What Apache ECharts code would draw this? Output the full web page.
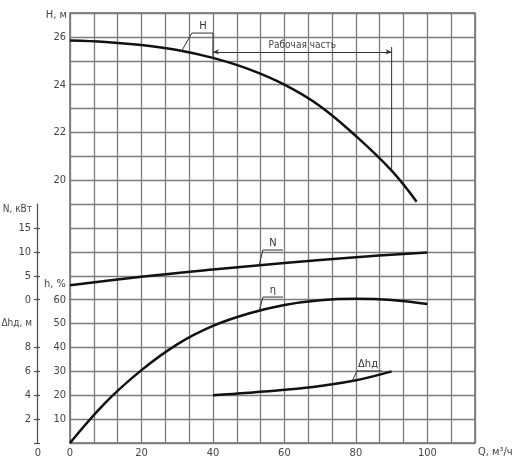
<!DOCTYPE html>
<html>
<head>
<meta charset="utf-8">
<script src="https://cdn.jsdelivr.net/npm/echarts@6/dist/echarts.min.js"></script>
<style>
  html, body { margin: 0; padding: 0; background: #fff; }
  #chart { width: 520px; height: 465px; }
</style>
</head>
<body>
<div id="chart"></div>
<script>
// pump curves, values
const qLabels = [0, 20, 40, 60, 80, 100]
const hLabels = [20, 22, 24, 26]
const nLabels = [0, 5, 10, 15]
const etaLabels = [10, 20, 30, 40, 50, 60]
const dhLabels = [2, 4, 6, 8]
const nTicks = [0, 5, 10, 15]
const dhTicks = [0, 2, 4, 6, 8]

const qHead = [0, 10, 20, 30, 40, 50, 60, 70, 80, 90, 97]
const headH = [25.85, 25.79, 25.66, 25.45, 25.12, 24.65, 24.0, 23.1, 21.85, 20.4, 19.1]

const qPower = [0, 20, 40, 60, 80, 100]
const powerN = [3.0, 4.8, 6.3, 7.7, 8.9, 9.9]

const qEff = [0, 10, 20, 30, 40, 50, 60, 70, 80, 90, 100]
const effEta = [0, 17, 30.5, 41.3, 49, 54.2, 57.8, 59.8, 60.4, 59.9, 58.2]

const qNpsh = [40, 50, 60, 70, 80, 90]
const npshDh = [4.0, 4.2, 4.45, 4.78, 5.25, 6.0]

// working range of Q
const workRange = [40, 90]
const workLevel = 25.37

const Q_MAX = 340 / 3
const Q_STEP = 20 / 3

const ink = '#111'
const text = '#444'
const rule = '#7c7c7c'
const font = '"Liberation Sans Narrow", "DejaVu Sans Condensed", "Liberation Sans", sans-serif'

const zip = (xs, ys) => xs.map((x, i) => [x, ys[i]])

function callout(name, xAxisIndex, yAxisIndex, pts, labelAt) {
  // pts: [on curve], [leader top], [end of underline]
  const [a, b, c] = pts
  return {
    name,
    type: 'line',
    xAxisIndex,
    yAxisIndex,
    symbol: 'circle',
    symbolSize: 0,
    showSymbol: true,
    silent: true,
    lineStyle: { color: '#333', width: 1 },
    data: [
      a,
      b,
      {
        value: [labelAt, b[1]],
        label: {
          show: true,
          position: 'top',
          distance: 1,
          formatter: name,
          color: '#333',
          fontSize: 11,
          fontFamily: font
        }
      },
      c
    ]
  }
}

function curve(name, xAxisIndex, yAxisIndex, data) {
  return {
    name,
    type: 'line',
    xAxisIndex,
    yAxisIndex,
    smooth: 0.4,
    showSymbol: false,
    silent: true,
    lineStyle: { color: ink, width: 2.5 },
    data
  }
}

const labelStyle = { color: text, fontSize: 11, fontFamily: font }
const nameStyle = { color: text, fontSize: 11, fontFamily: font }
const tickLine = { color: '#555', width: 1.2 }

const chart = echarts.init(document.getElementById('chart'), null, { renderer: 'canvas' })

chart.setOption({
  animation: false,
  backgroundColor: '#fff',
  textStyle: { fontFamily: font },
  grid: [
    {
      left: 70, top: 13, width: 405, height: 430,
      show: true, borderColor: '#666', borderWidth: 1.5,
      containLabel: false, outerBoundsMode: 'none'
    },
    {
      left: 70, top: 204.14, width: 405, height: 238.86,
      show: false, containLabel: false, outerBoundsMode: 'none'
    }
  ],
  xAxis: [
    {
      gridIndex: 0,
      type: 'value',
      min: 0,
      max: Q_MAX,
      interval: Q_STEP,
      axisLine: { show: false },
      axisTick: { show: false },
      splitLine: { show: true, lineStyle: { color: rule, width: 1.3 } },
      axisLabel: { customValues: qLabels, margin: 5, ...labelStyle },
      name: 'Q, м³/ч',
      nameLocation: 'end',
      nameGap: 3,
      nameMoveOverlap: false,
      nameTextStyle: { ...nameStyle, align: 'left', verticalAlign: 'top', padding: [4, 0, 0, 0] }
    },
    {
      gridIndex: 1,
      type: 'value',
      min: 0,
      max: Q_MAX,
      show: false
    }
  ],
  yAxis: [
    {
      // H
      gridIndex: 0,
      type: 'value',
      min: 9,
      max: 27,
      interval: 1,
      axisLine: { show: false, onZero: false },
      axisTick: { show: false },
      splitLine: { show: true, lineStyle: { color: rule, width: 1.3 } },
      axisLabel: { customValues: hLabels, margin: 4, ...labelStyle },
      name: 'H, м',
      nameLocation: 'end',
      nameGap: -2,
      nameMoveOverlap: false,
      nameTextStyle: { ...nameStyle, align: 'right', verticalAlign: 'middle', padding: [0, 3, 0, 0] }
    },
    {
      // N
      gridIndex: 1,
      type: 'value',
      position: 'left',
      offset: 33,
      min: -30,
      max: 20,
      interval: 5,
      axisLine: { show: true, onZero: false, lineStyle: { color: '#555', width: 1.3 } },
      axisTick: { show: true, customValues: nTicks, length: 3, lineStyle: tickLine },
      axisLabel: { customValues: nLabels, margin: 6, ...labelStyle },
      splitLine: { show: false },
      name: 'N, кВт',
      nameLocation: 'end',
      nameGap: -5,
      nameMoveOverlap: false,
      nameTextStyle: { ...nameStyle, fontSize: 10, align: 'right', verticalAlign: 'middle', padding: [0, 5, 0, 0] }
    },
    {
      // N ticks, inner side
      gridIndex: 1,
      type: 'value',
      position: 'left',
      offset: 33,
      min: -30,
      max: 20,
      interval: 5,
      axisLine: { show: false, onZero: false },
      axisTick: { show: true, inside: true, customValues: nTicks, length: 3, lineStyle: tickLine },
      axisLabel: { show: false },
      splitLine: { show: false }
    },
    {
      // Δh
      gridIndex: 1,
      type: 'value',
      position: 'left',
      offset: 33,
      min: 0,
      max: 20,
      interval: 2,
      axisLine: { show: false, onZero: false },
      axisTick: { show: true, customValues: dhTicks, length: 3, lineStyle: tickLine },
      axisLabel: { customValues: dhLabels, margin: 6, ...labelStyle },
      splitLine: { show: false },
      name: 'Δhд, м',
      nameLocation: 'middle',
      nameRotate: 0,
      nameGap: 5,
      nameMoveOverlap: false,
      nameTextStyle: { ...nameStyle, fontSize: 10, align: 'right', verticalAlign: 'middle', padding: [8, 0, 0, 0] }
    },
    {
      // Δh ticks, inner side
      gridIndex: 1,
      type: 'value',
      position: 'left',
      offset: 33,
      min: 0,
      max: 20,
      interval: 2,
      axisLine: { show: false, onZero: false },
      axisTick: { show: true, inside: true, customValues: dhTicks, length: 3, lineStyle: tickLine },
      axisLabel: { show: false },
      splitLine: { show: false }
    },
    {
      // η
      gridIndex: 1,
      type: 'value',
      position: 'left',
      offset: 0,
      min: 0,
      max: 100,
      interval: 10,
      axisLine: { show: false, onZero: false },
      axisTick: { show: false },
      axisLabel: { customValues: etaLabels, margin: 4, ...labelStyle },
      splitLine: { show: false },
      name: 'h, %',
      nameLocation: 'end',
      nameGap: -80,
      nameMoveOverlap: false,
      nameTextStyle: { ...nameStyle, align: 'right', verticalAlign: 'middle', padding: [0, 4, 0, 0] }
    }
  ],
  graphic: [
    {
      type: 'text',
      x: 38,
      y: 453,
      silent: true,
      style: { text: '0', fill: text, font: '11px ' + font, textAlign: 'center', textVerticalAlign: 'middle' }
    }
  ],
  series: [
    curve('H', 0, 0, zip(qHead, headH)),
    curve('N', 1, 1, zip(qPower, powerN)),
    curve('η', 1, 5, zip(qEff, effEta)),
    curve('Δh', 1, 3, zip(qNpsh, npshDh)),
    callout('H', 0, 0, [[31.3, 25.42], [34.1, 26.16], [40, 26.16]], 37.2),
    callout('N', 1, 1, [[52.9, 7.2], [54.0, 10.4], [59.6, 10.4]], 56.8),
    callout('η', 1, 5, [[52.9, 55.2], [54.0, 61.1], [59.6, 61.1]], 56.8),
    callout('Δhд', 1, 3, [[78.9, 5.15], [80.3, 6.03], [87.3, 6.03]], 83.4),
    {
      // working range dimension line
      name: 'work',
      type: 'line',
      xAxisIndex: 0,
      yAxisIndex: 0,
      data: [],
      silent: true,
      markLine: {
        silent: true,
        symbol: ['arrow', 'arrow'],
        symbolSize: [4, 6],
        lineStyle: { color: '#333', width: 1, type: 'solid' },
        label: {
          show: true,
          position: 'middle',
          formatter: 'Рабочая часть',
          color: text,
          fontSize: 10,
          fontFamily: font,
          distance: 2
        },
        data: [[{ coord: [workRange[0], workLevel] }, { coord: [workRange[1], workLevel] }]]
      }
    },
    {
      name: 'workLeft',
      type: 'line',
      xAxisIndex: 0,
      yAxisIndex: 0,
      showSymbol: false,
      silent: true,
      lineStyle: { color: '#333', width: 1 },
      data: [[workRange[0], 26.16], [workRange[0], 25.1]]
    },
    {
      name: 'workRight',
      type: 'line',
      xAxisIndex: 0,
      yAxisIndex: 0,
      showSymbol: false,
      silent: true,
      lineStyle: { color: '#333', width: 1 },
      data: [[workRange[1], 25.58], [workRange[1], 20.4]]
    }
  ]
})
</script>
</body>
</html>
